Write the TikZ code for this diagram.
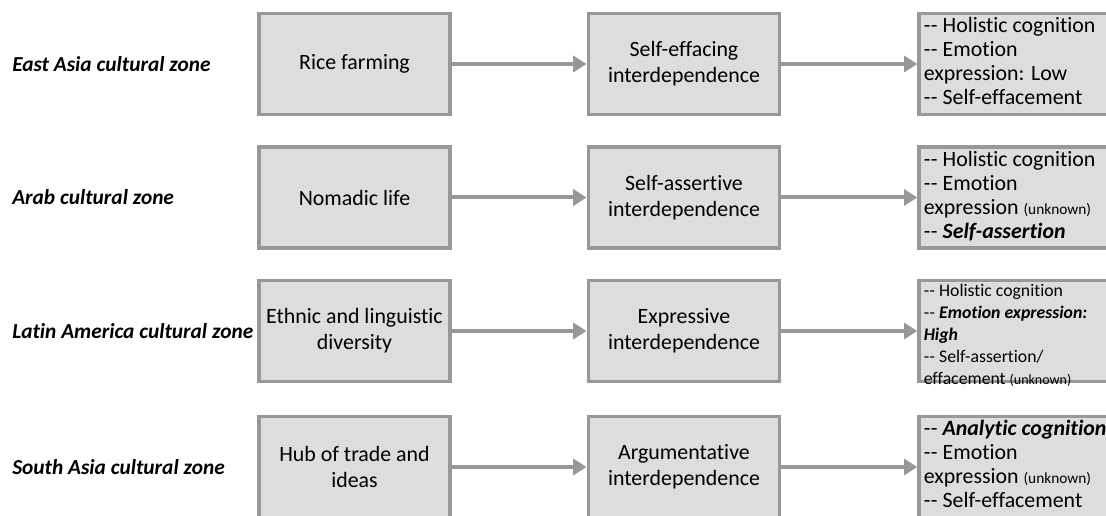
\documentclass[tikz,border=0pt]{standalone}
\usepackage{fontspec}
\setmainfont{Carlito}[Ligatures=NoCommon]
\usetikzlibrary{positioning, arrows.meta}
\definecolor{boxfill}{RGB}{220,221,223}
\definecolor{boxline}{RGB}{152,152,152}
\newcommand{\dsh}{-\kern0.4pt-\ }
\newcommand{\unk}[1]{{\fontsize{#1}{12}\selectfont(unknown)}}

\begin{document}
\begin{tikzpicture}[
			x=0.75pt, y=-0.75pt,
			node distance=101pt,
			zone/.style={
				anchor=west,
				inner sep=0pt,
				font=\fontsize{16}{19}\selectfont\bfseries\itshape
			},
			cause/.style={
				draw=boxline,
				fill=boxfill,
				rectangle,
				line width=2.6pt,
				minimum width=143.5pt,
				minimum height=76pt,
				align=center,
				font=\fontsize{16.4}{19.5}\selectfont
			},
			trait/.style={
				cause,
				minimum width=0pt,
				minimum height=0pt,
				inner xsep=3.5pt,
				inner ysep=3pt,
				align=left,
				font=\fontsize{16.4}{18}\selectfont
			},
			every edge/.style={
				draw=boxline,
				line width=3pt,
				-{Triangle[length=10pt, width=12pt]}
			}
			]
			\useasboundingbox (0,0) rectangle (1106,516);
			% Zones
			\node[zone] (eaZone) at (12,64) {East Asia cultural zone};
			\node[zone] (arZone) at (12,197.5) {Arab cultural zone};
			\node[zone] (laZone) at (12,331) {Latin America cultural zone};
			\node[zone] (saZone) at (12,467) {South Asia cultural zone};
			% Ecology
			\node[cause] (eaEco) at (354.5,64) {Rice farming};
			\node[cause] (arEco) at (354.5,197.5) {Nomadic life};
			\node[cause] (laEco) at (354.5,331) {Ethnic and linguistic\\diversity};
			\node[cause] (saEco) at (354.5,467) {Hub of trade and\\ideas};
			% Interdependence
			\node[cause] (eaInt) [right=of eaEco] {Self-effacing\\interdependence};
			\node[cause] (arInt) [right=of arEco] {Self-assertive\\interdependence};
			\node[cause] (laInt) [right=of laEco] {Expressive\\interdependence};
			\node[cause] (saInt) [right=of saEco] {Argumentative\\interdependence};
			% Outcomes
			\node[trait] (eaOut) [right=102pt of eaInt] {\parbox[t][70pt][t]{142pt}{\raggedright
				\dsh Holistic cognition\\
				\dsh Emotion\\
				expression: Low\\
				\dsh Self-effacement}};
			\node[trait] (arOut) [right=102pt of arInt] {\parbox[t][70pt][t]{142pt}{\raggedright
				\dsh Holistic cognition\\
				\dsh Emotion\\
				expression \unk{11.5}\\
				\dsh \textbf{\textit{Self-assertion}}}};
			\node[trait] (laOut) [right=102pt of laInt] {\parbox[t][70pt][t]{142pt}{\raggedright
				\fontsize{13.3}{16.5}\selectfont
				\dsh Holistic cognition\\
				\dsh \textbf{\textit{Emotion expression:}}\\
				\textbf{\textit{High}}\\
				\dsh Self-assertion/\\
				effacement \unk{10.5}}};
			\node[trait] (saOut) [right=102pt of saInt] {\parbox[t][70pt][t]{142pt}{\raggedright
				\dsh \textbf{\textit{Analytic cognition}}\\
				\dsh Emotion\\
				expression \unk{11.5}\\
				\dsh Self-effacement}};
			% Links
			\path
			(eaEco) edge (eaInt) (eaInt) edge (eaOut)
			(arEco) edge (arInt) (arInt) edge (arOut)
			(laEco) edge (laInt) (laInt) edge (laOut)
			(saEco) edge (saInt) (saInt) edge (saOut);
		\end{tikzpicture}
\end{document}
